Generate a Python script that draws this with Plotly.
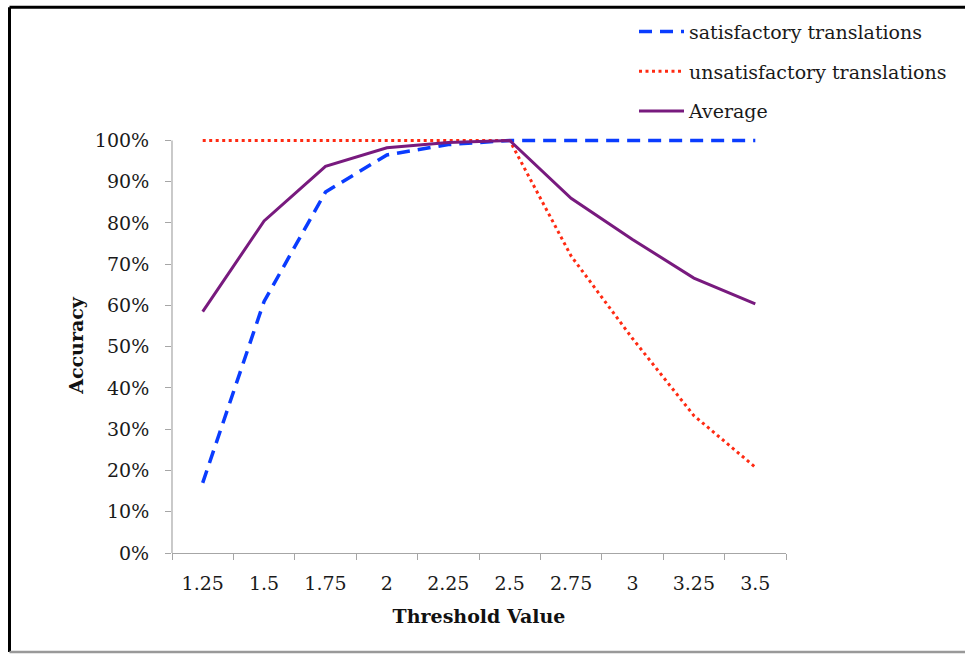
import plotly.graph_objects as go

thresholds = ["1.25", "1.5", "1.75", "2", "2.25", "2.5", "2.75", "3", "3.25", "3.5"]
satisfactory = [0.17, 0.61, 0.875, 0.965, 0.99, 1.0, 1.0, 1.0, 1.0, 1.0]
unsatisfactory = [1.0, 1.0, 1.0, 1.0, 1.0, 1.0, 0.72, 0.52, 0.333, 0.208]
average = [0.585, 0.805, 0.9375, 0.9825, 0.995, 1.0, 0.86, 0.76, 0.6665, 0.604]

FONT = "DejaVu Serif"

fig = go.Figure()
fig.add_trace(go.Scatter(x=thresholds, y=satisfactory, mode="lines",
                         name="satisfactory translations", legendgroup="a",
                         line=dict(color="#0A3CFF", width=3.5, dash="13px,8px")))
fig.add_trace(go.Scatter(x=thresholds, y=unsatisfactory, mode="lines",
                         name="unsatisfactory translations", legendgroup="b",
                         line=dict(color="#FF2A12", width=3, dash="3px,3.5px")))
fig.add_trace(go.Scatter(x=thresholds, y=average, mode="lines",
                         name="Average", legendgroup="c",
                         line=dict(color="#781A7E", width=3)))

YTOP = 1.006
L, R, T, B = 172, 179, 137.5, 101
W, H = 965, 654
pw, ph = W - L - R, H - T - B

def px(x):
    return (x - L) / pw

def py(y):
    return (H - B - y) / ph

fig.update_layout(
    width=W, height=H,
    margin=dict(l=L, r=R, t=T, b=B, pad=0),
    paper_bgcolor="white", plot_bgcolor="white",
    font=dict(family=FONT, size=19, color="#1a1a1a"),
    showlegend=True,
    legend=dict(x=px(634), y=py(12), xanchor="left", yanchor="top",
                font=dict(family=FONT, size=19, color="#1a1a1a"),
                tracegroupgap=12, traceorder="grouped",
                bgcolor="rgba(0,0,0,0)", itemwidth=45),
    xaxis=dict(type="category", tickson="boundaries", range=[-0.5, 9.5],
               showline=True,
               linecolor="#A6A6A6", linewidth=1.2, ticks="outside", ticklen=6,
               tickcolor="#A6A6A6", showgrid=False, zeroline=False,
               ticklabelstandoff=13,
               title=dict(text="<b>Threshold Value</b>", standoff=16,
                          font=dict(family=FONT, size=19, color="#111111"))),
    yaxis=dict(range=[0, YTOP], tickvals=[i / 10 for i in range(11)],
               tickformat=".0%", showline=False,
               ticks="outside", ticklen=6,
               tickcolor="#A6A6A6", showgrid=False, zeroline=False,
               ticklabelstandoff=12,
               title=dict(text="<b>Accuracy</b>", standoff=6,
                          font=dict(family=FONT, size=19, color="#111111"))),
    shapes=[
        dict(type="line", xref="paper", yref="y", x0=0, x1=0,
             y0=0, y1=1, line=dict(color="#A6A6A6", width=1.2), layer="below"),
        dict(type="line", xref="paper", yref="paper", x0=px(9.5), x1=px(970),
             y0=py(6.5), y1=py(6.5), line=dict(color="black", width=3)),
        dict(type="line", xref="paper", yref="paper", x0=px(9.5), x1=px(9.5),
             y0=py(6.5), y1=py(652), line=dict(color="black", width=3)),
        dict(type="line", xref="paper", yref="paper", x0=px(9.5), x1=px(970),
             y0=py(652), y1=py(652), line=dict(color="#999999", width=2.5)),
    ],
)

fig.write_html("out.html")
